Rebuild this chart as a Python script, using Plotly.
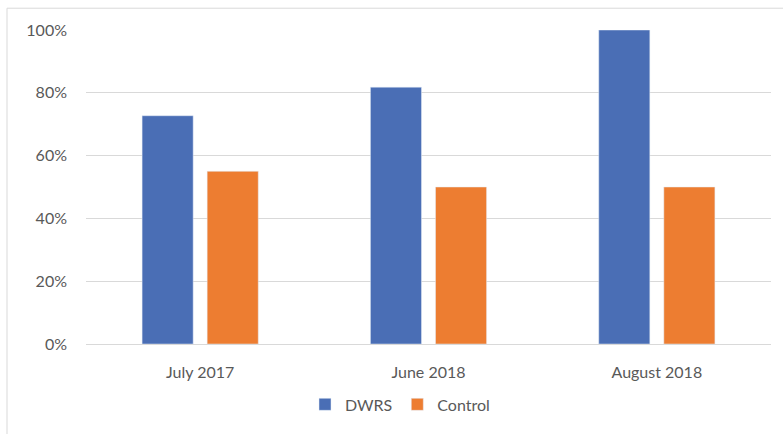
import plotly.graph_objects as go

categories = ["July 2017", "June 2018", "August 2018"]
dwrs = [72.7, 81.8, 100]
control = [55, 50, 50]
y_ticks = [0, 20, 40, 60, 80, 100]
y_tick_labels = ["0%", "20%", "40%", "60%", "80%", "100%"]

W, H = 783, 434
ml, mr, mt, mb = 86, 12, 30, 87
pw, ph = W - ml - mr, H - mt - mb

fig = go.Figure()
fig.add_trace(go.Bar(name="DWRS", x=categories, y=dwrs, marker_color="#4A6EB5"))
fig.add_trace(go.Bar(name="Control", x=categories, y=control, marker_color="#ED7D31"))

font = dict(family="Lato, Open Sans, sans-serif", size=16, color="#595959")

fig.update_layout(
    width=W, height=H,
    margin=dict(l=ml, r=mr, t=mt, b=mb),
    paper_bgcolor="white", plot_bgcolor="white",
    barmode="group", bargap=0.43, bargroupgap=0.215,
    font=font,
    showlegend=True,
    legend=dict(orientation="h", x=(400 - ml) / pw, xanchor="center",
                y=(mt + ph - 408) / ph, yanchor="middle", font=font,
                itemwidth=30, traceorder="normal"),
    xaxis=dict(showgrid=False, showline=True, linecolor="#d9d9d9", linewidth=1,
               ticks="", tickfont=font, ticklabelstandoff=14),
    yaxis=dict(range=[0, 100], tickvals=y_ticks, ticktext=y_tick_labels,
               showgrid=True, gridcolor="#d9d9d9", gridwidth=1,
               zeroline=False, showline=False, ticks="", ticklabelstandoff=18,
               tickfont=font),
    shapes=[dict(type="rect", xref="paper", yref="paper",
                 x0=(7 - ml) / pw, x1=(W + 10 - ml) / pw,
                 y0=(mt + ph - (H + 10)) / ph, y1=1 + (mt - 8) / ph,
                 line=dict(color="#d9d9d9", width=1), fillcolor="rgba(0,0,0,0)",
                 layer="below")],
)

fig.write_html("out.html", config={"displayModeBar": False},
               post_script="document.body.style.margin='0';document.body.style.overflow='hidden';")
